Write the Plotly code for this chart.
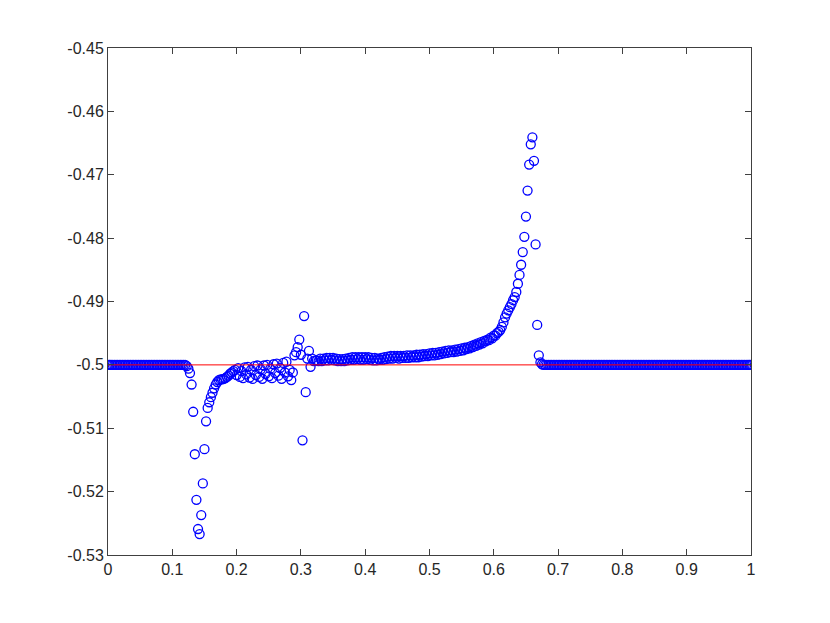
import numpy as np
import plotly.graph_objects as go

# valores (401 pontos igualmente espaçados em [0, 1])
y_left_flat = [-0.5] * 49

y_dip = [
    -0.5002, -0.5006, -0.5013, -0.5031, -0.5074, -0.5141, -0.5213, -0.5259, -0.5267, -0.5237,
    -0.5187, -0.5133, -0.5089, -0.5068, -0.5059, -0.5051, -0.5044, -0.5037, -0.5031, -0.5027,
    -0.5024, -0.5023, -0.5023, -0.5022, -0.5021, -0.5019, -0.5017, -0.5014, -0.5012, -0.5010,
]

y_oscill = [
    -0.5008, -0.5016, -0.5005, -0.5019, -0.5010, -0.5021, -0.5004, -0.5015, -0.5003, -0.5020,
    -0.5008, -0.5022, -0.5002, -0.5016, -0.5001, -0.5019, -0.5007, -0.5022, -0.5001, -0.5014,
    -0.5000, -0.5018, -0.5006, -0.5021, -0.4999, -0.5013, -0.4998, -0.5017, -0.5005, -0.5022,
    -0.4997, -0.5012, -0.4995, -0.5018, -0.5008, -0.5024, -0.5012, -0.4985, -0.4980, -0.4972,
    -0.4960, -0.4984, -0.5119, -0.4923, -0.5043, -0.4990, -0.4978, -0.5003, -0.4990, -0.4994,
    -0.4993, -0.4993,
]

y_plateau = [
    -0.4994, -0.4990, -0.4994, -0.4990, -0.4993, -0.4989, -0.4993, -0.4989, -0.4992, -0.4989,
    -0.4993, -0.4990, -0.4994, -0.4991, -0.4994, -0.4991, -0.4994, -0.4990, -0.4993, -0.4989,
    -0.4992, -0.4988, -0.4992, -0.4988, -0.4991, -0.4988, -0.4992, -0.4988, -0.4992, -0.4988,
    -0.4991, -0.4988, -0.4992, -0.4989, -0.4993, -0.4989, -0.4993, -0.4990, -0.4992, -0.4989,
    -0.4992, -0.4988, -0.4991, -0.4987, -0.4990, -0.4986, -0.4990, -0.4986, -0.4989, -0.4986,
    -0.4990, -0.4986, -0.4989, -0.4986, -0.4989, -0.4985, -0.4989, -0.4985, -0.4988, -0.4985,
    -0.4988, -0.4984, -0.4988, -0.4984, -0.4987, -0.4983, -0.4986, -0.4983, -0.4986, -0.4982,
    -0.4985, -0.4981, -0.4985, -0.4981, -0.4984, -0.4980, -0.4983, -0.4979, -0.4982, -0.4978,
    -0.4981, -0.4977, -0.4980, -0.4977, -0.4980, -0.4976, -0.4979, -0.4975, -0.4978, -0.4974,
    -0.4977, -0.4973, -0.4975, -0.4972, -0.4974, -0.4970, -0.4972, -0.4968, -0.4970, -0.4966,
    -0.4968, -0.4964, -0.4966, -0.4962, -0.4963, -0.4960, -0.4961, -0.4957, -0.4958, -0.4954,
    -0.4954, -0.4950, -0.4948, -0.4945,
]

y_peak = [
    -0.4940, -0.4933, -0.4925, -0.4919, -0.4914, -0.4909,
    -0.4904, -0.4898, -0.4893, -0.4885, -0.4872, -0.4858, -0.4842, -0.4822, -0.4798, -0.4766,
    -0.4725, -0.4684, -0.4652, -0.4641, -0.4678, -0.4810, -0.4937, -0.4985, -0.4996, -0.4999,
]

y_right_flat = [-0.5] * 130

# linha de referência
ref_x = [0, 1]
ref_y = [-0.5, -0.5]

x_ticks = [0, 0.1, 0.2, 0.3, 0.4, 0.5, 0.6, 0.7, 0.8, 0.9, 1]
x_tick_text = ['0', '0.1', '0.2', '0.3', '0.4', '0.5', '0.6', '0.7', '0.8', '0.9', '1']
y_ticks = [-0.53, -0.52, -0.51, -0.5, -0.49, -0.48, -0.47, -0.46, -0.45]
y_tick_text = ['-0.53', '-0.52', '-0.51', '-0.5', '-0.49', '-0.48', '-0.47', '-0.46', '-0.45']

y = y_left_flat + y_dip + y_oscill + y_plateau + y_peak + y_right_flat
x = np.linspace(0, 1, len(y))

fig = go.Figure()

fig.add_trace(go.Scatter(
    x=x, y=y, mode='markers',
    marker=dict(symbol='circle-open', size=9, color='#0000ff', line=dict(width=1.3, color='#0000ff')),
    showlegend=False
))

fig.add_trace(go.Scatter(
    x=ref_x, y=ref_y, mode='lines',
    line=dict(color='#ff0000', width=1),
    showlegend=False
))

axis_style = dict(
    showgrid=False, zeroline=False,
    showline=True, linecolor='#404040', linewidth=1, mirror='ticks',
    ticks='inside', ticklen=6, tickcolor='#404040', tickwidth=1,
    tickfont=dict(family='Liberation Sans, Arial, sans-serif', size=16, color='#262626'),
)

# a página tem 8px de margem no body, compensado aqui
fig.update_layout(
    width=830, height=623, autosize=False,
    paper_bgcolor='white', plot_bgcolor='white',
    margin=dict(l=100, r=87, t=40, b=76),
    xaxis=dict(range=[0, 1], tickmode='array', tickvals=x_ticks, ticktext=x_tick_text, **axis_style),
    yaxis=dict(range=[-0.53, -0.45], tickmode='array', tickvals=y_ticks, ticktext=y_tick_text, **axis_style),
)

fig.write_html("out.html")
